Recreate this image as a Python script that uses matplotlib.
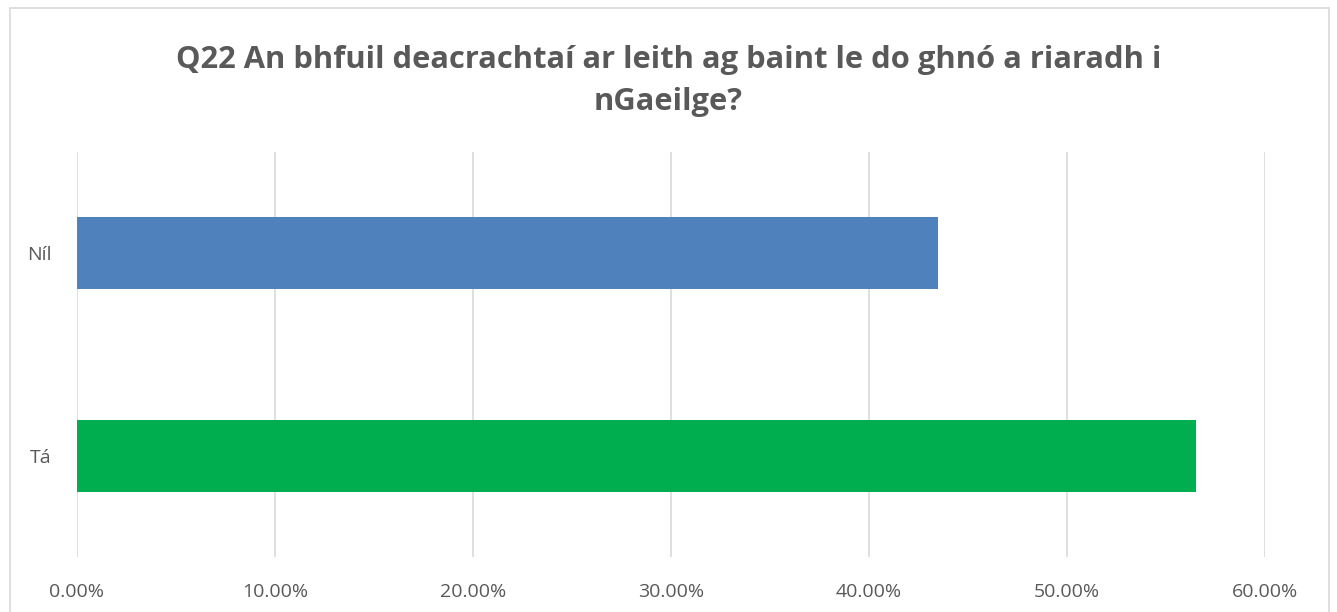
import matplotlib.pyplot as plt
from matplotlib.patches import Rectangle
from matplotlib.ticker import FuncFormatter

categories = ['Tá', 'Níl']
shares = [56.52, 43.48]
bar_colors = ['#00ad4f', '#4f81bd']
xticks = [0, 10, 20, 30, 40, 50, 60]
title = 'Q22 An bhfuil deacrachtaí ar leith ag baint le do ghnó a riaradh i\nnGaeilge?'

W, H = 1337, 612
fig = plt.figure(figsize=(W / 100, H / 100), dpi=100)
fig.patch.set_facecolor('white')

# chart area border
fig.patches.append(Rectangle((10 / W, -0.05), 1319 / W, 1 - 8 / H + 0.05,
                             transform=fig.transFigure, fill=False,
                             edgecolor='#d9d9d9', linewidth=1.2))

ax = fig.add_axes([77 / W, 1 - 557 / H, (1265 - 77) / W, (557 - 152) / H])
ax.barh(range(len(categories)), shares, height=0.355, color=bar_colors, zorder=3)

ax.set_xlim(0, 60)
ax.set_ylim(-0.5, 1.5)
ax.set_xticks(xticks)
ax.xaxis.set_major_formatter(FuncFormatter(lambda v, p: f'{v:.2f}%'))
ax.set_yticks(range(len(categories)))
ax.set_yticklabels(categories)
ax.grid(axis='x', color='#d9d9d9', linewidth=1.2, zorder=0)
for s in ax.spines.values():
    s.set_visible(False)
ax.tick_params(length=0, labelsize=14, colors='#595959')
ax.tick_params(axis='x', pad=19)
ax.tick_params(axis='y', pad=18)
for lbl in ax.get_xticklabels() + ax.get_yticklabels():
    lbl.set_family(['Open Sans', 'DejaVu Sans'])

fig.text(0.5, 1 - 81 / H, title, ha='center', va='center', fontsize=22.2,
         fontweight='bold', color='#595959', linespacing=1.5,
         family=['Open Sans', 'DejaVu Sans'])

fig.savefig('out.png', dpi=100)
